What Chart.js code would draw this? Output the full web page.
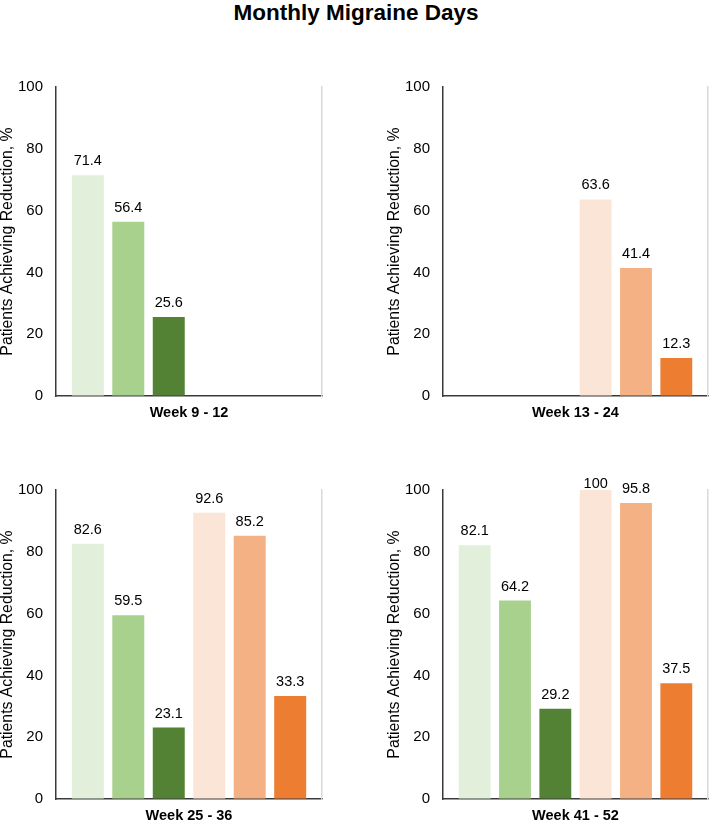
<!DOCTYPE html>
<html lang="en">
<head>
  <meta charset="UTF-8" />
  <title>Monthly Migraine Days</title>
  <style>
    body {
      margin: 0;
      width: 712px;
      height: 822px;
      background: #fff;
      font-family: "Liberation Sans", Arial, sans-serif;
      position: relative;
      overflow: hidden;
    }
    h1 {
      position: absolute;
      top: 0;
      left: 0;
      width: 712px;
      margin: 0;
      text-align: center;
      font-size: 22.5px;
      line-height: 25px;
      font-weight: bold;
      color: #000;
    }
    .panel {
      position: absolute;
    }
  </style>
</head>
<body>
  <h1>Monthly Migraine Days</h1>
  <div class="panel" style="left:0;top:60px;width:330px;height:365px"><canvas id="c0"></canvas></div>
  <div class="panel" style="left:387px;top:60px;width:325px;height:365px"><canvas id="c1"></canvas></div>
  <div class="panel" style="left:0;top:463px;width:330px;height:365px"><canvas id="c2"></canvas></div>
  <div class="panel" style="left:387px;top:463px;width:325px;height:365px"><canvas id="c3"></canvas></div>

  <script src="https://cdn.jsdelivr.net/npm/chart.js"></script>
  <script>
    // one entry per panel
    const periods = ['Week 9 - 12', 'Week 13 - 24', 'Week 25 - 36', 'Week 41 - 52'];

    // six bar series, one value per panel (null = not shown)
    const greenLight = [71.4, null, 82.6, 82.1];
    const greenMid = [56.4, null, 59.5, 64.2];
    const greenDark = [25.6, null, 23.1, 29.2];
    const orangeLight = [null, 63.6, 92.6, 100];
    const orangeMid = [null, 41.4, 85.2, 95.8];
    const orangeDark = [null, 12.3, 33.3, 37.5];

    const yTicks = [0, 20, 40, 60, 80, 100];
    const yTitle = 'Patients Achieving Reduction, %';

    const series = [greenLight, greenMid, greenDark, orangeLight, orangeMid, orangeDark];
    const colors = ['#e2efda', '#a9d18e', '#548235', '#fbe5d6', '#f4b183', '#ed7d31'];
    const rightPad = [8, 4, 8, 4];

    const FONT = '"Liberation Sans", Arial, sans-serif';

    // value labels above each bar
    const valueLabels = {
      id: 'valueLabels',
      afterDatasetsDraw(chart) {
        const ctx = chart.ctx;
        ctx.save();
        ctx.font = '14.5px ' + FONT;
        ctx.fillStyle = '#000';
        ctx.textAlign = 'center';
        ctx.textBaseline = 'alphabetic';
        chart.data.datasets.forEach((ds, di) => {
          const meta = chart.getDatasetMeta(di);
          meta.data.forEach((bar, i) => {
            const v = ds.data[i];
            if (v === null || v === undefined) return;
            const y = Math.max(bar.y - 10, chart.chartArea.top - 2);
            ctx.fillText(String(v), bar.x, y);
          });
        });
        ctx.restore();
      }
    };

    periods.forEach((period, p) => {
      const datasets = series.map((s, k) => ({
        label: 'Series ' + (k + 1),
        data: [s[p]],
        backgroundColor: colors[k],
        borderWidth: 0
      }));

      new Chart(document.getElementById('c' + p), {
        type: 'bar',
        data: { labels: [period], datasets: datasets },
        options: {
          responsive: true,
          maintainAspectRatio: false,
          animation: false,
          layout: { padding: { top: 27, right: rightPad[p], left: 0, bottom: 0 } },
          datasets: { bar: { categoryPercentage: 0.913, barPercentage: 0.79 } },
          plugins: {
            legend: { display: false },
            tooltip: { enabled: false },
            title: { display: false }
          },
          scales: {
            x: {
              grid: { display: true, drawOnChartArea: false, drawTicks: false },
              border: { display: true, color: '#3a3a3a', width: 1.5 },
              ticks: {
                padding: 8,
                color: '#000',
                font: { family: FONT, size: 14.5, weight: 'bold' }
              },
              afterFit(scale) { scale.height = 29; }
            },
            y: {
              min: 0,
              max: 100,
              grid: { display: true, drawOnChartArea: false, drawTicks: false },
              border: { display: true, color: '#3a3a3a', width: 1.5 },
              afterBuildTicks(scale) { scale.ticks = yTicks.map(v => ({ value: v })); },
              ticks: {
                padding: 13,
                color: '#000',
                font: { family: FONT, size: 15 }
              },
              title: {
                display: true,
                text: yTitle,
                color: '#000',
                padding: { top: -2, bottom: 0 },
                font: { family: FONT, size: 15.8 }
              },
              afterFit(scale) { scale.width = 56; }
            },
            yRight: {
              position: 'right',
              min: 0,
              max: 100,
              grid: { display: true, drawOnChartArea: false, drawTicks: false },
              border: { display: true, color: '#d9d9d9', width: 1.5 },
              ticks: { display: false },
              afterFit(scale) { scale.width = 0; }
            }
          }
        },
        plugins: [valueLabels]
      });
    });
  </script>
</body>
</html>
